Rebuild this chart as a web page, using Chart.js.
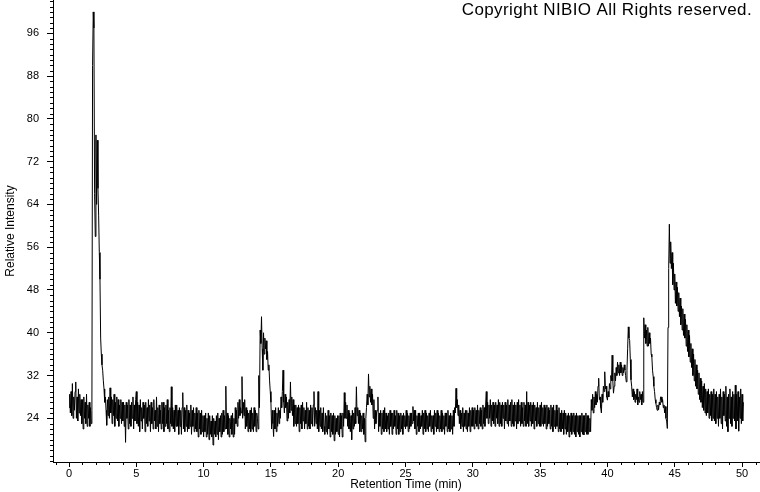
<!DOCTYPE html>
<html>
<head>
<meta charset="utf-8">
<title>Chromatogram</title>
<script src="https://cdn.jsdelivr.net/npm/chart.js@4"></script>
<style>
  html, body { margin: 0; padding: 0; background: #fff; }
  #wrap { width: 760px; height: 492px; }
</style>
</head>
<body>
<div id="wrap"><canvas id="chrom" width="760" height="492"></canvas></div>
<script>
// Chromatogram - relative intensity vs retention time
// values on a 0.05 min grid (one row = one minute)

const xTicks = [0, 5, 10, 15, 20, 25, 30, 35, 40, 45, 50];
const yTicks = [24, 32, 40, 48, 56, 64, 72, 80, 88, 96];

const STEP = 0.05;

// 0.00 - 1.70 min
const leadStart = 0.0;
const leadValues = [
  26, 28.5, 25, 29, 24.5, 30.5, 24, 28, 25.5, 29, 30.8, 24, 28, 23.5, 29.5, 25, 28.5, 24.5, 27.5, 23,
  27.5, 22, 28, 24, 27, 23, 28.5, 22.5, 26.5, 24, 27, 22.5, 26, 23, 25.5];

// big early peak, 1.75 - 2.70 min
const peak1Start = 1.75;
const peak1Values = [90, 100, 97, 66, 58, 77, 64, 76, 67, 62,
  55, 50, 39, 36, 34, 33, 31, 29.5, 27, 28];

// 2.75 - 14.00 min
const run2Start = 2.75;
const run2Values = [25.5, 22.7, 27.5, 24.5, 28,
  24, 29.7, 25, 28, 23, 27.5, 24.5, 28.5, 22.5, 27, 24, 28, 23.5, 27.5, 22.5, 26.5, 24, 27.5, 23, 27,
  23.5, 27, 22.5, 26.5, 19.5, 27, 24, 26.5, 22, 27.5, 23, 26.5, 22.5, 27, 24, 28, 22, 26.5, 23.5, 27.5,
  29, 23, 27, 22.5, 26.5, 21.5, 27.5, 23.5, 26, 22, 27, 24, 26.5, 21.5, 27, 23, 26, 22.5, 27.5, 23.5,
  26.5, 21.5, 27, 23, 26, 22, 27.5, 23.5, 25.5, 22, 28, 22.5, 26, 21.5, 26.5, 23, 25.5, 22, 27, 23,
  27, 21.5, 26, 22.5, 26.5, 23, 27.5, 22, 25.5, 21.5, 26, 23, 29.9, 22.5, 26, 22, 25.5, 21.5, 26.5, 22.5,
  26.5, 22.5, 25.5, 21, 26, 22.5, 25.5, 21, 26, 28.8, 22, 26, 21.5, 25.5, 22.5, 26.5, 21.5, 25.5, 22, 25,
  22.5, 26.5, 21, 25.5, 22.5, 26, 21.5, 25, 22, 26, 21.5, 25, 20.5, 25.5, 22, 25, 21, 25.5, 21.5, 24.5,
  20.5, 24.5, 21.5, 25, 20.5, 24, 21, 25, 20, 24.5, 21, 23.5, 20.5, 24.5, 19, 24, 21, 23.5, 20.5, 24.5,
  21, 25, 20, 24, 21.5, 24.5, 20.5, 25, 21, 25.5, 21.5, 24.5, 22, 30, 22, 25, 21, 24.5, 20.5, 24,
  22, 24.5, 21, 25, 20.5, 24, 21, 26, 23, 25.5, 22.5, 27, 24, 27.5, 24.5, 26, 25, 31.8, 24, 27,
  24.5, 27.5, 22, 26, 22.5, 25.5, 21.5, 25, 22, 25.5, 21.5, 26, 22, 25, 21.5, 26, 22.5, 25.5, 21.5, 25,
  24];

// peak cluster around 14.3 min, 14.05 - 15.00
const peak2Start = 14.05;
const peak2Values = [22, 32, 26, 40.5, 38, 43, 37, 33, 40, 36,
  39, 37, 38.5, 35, 36.5, 33, 34, 31, 29, 27];

// 15.05 - 25.00 min
const run3Start = 15.05;
const run3Values = [
  22, 25.5, 23, 20.6, 25.5, 22, 26, 21.5, 25, 22.5, 26, 23, 25.5, 24, 28, 26, 29, 33, 27,
  25, 28.5, 26, 28, 23.5, 27, 24, 27.5, 25, 30.8, 25.5, 28, 24.5, 27.5, 22.5, 26.5, 23, 26.5, 22.5, 26,
  23, 26.5, 21.5, 26, 23, 26.5, 22, 27, 23.5, 26, 22, 25.5, 23, 27, 22, 26, 22.5, 25.5, 22, 26.5,
  23, 26, 22.5, 26.5, 29, 22.5, 26, 23, 25.5, 22, 29, 21.5, 25.5, 22.5, 26, 22, 25, 21.5, 26, 22.5,
  21, 25, 21.5, 24.5, 21, 25.5, 22, 24.5, 20.5, 25, 21.5, 24.5, 21, 25, 19.8, 24.5, 21, 24, 21.5, 24.5,
  21, 24.5, 20.5, 25, 22, 24.5, 20.5, 25, 22.5, 28.8, 24, 27, 24, 26.5, 22.5, 25.5, 22, 25, 21.5, 24.5,
  20, 25.5, 22, 25, 22.5, 26, 23, 29.9, 24.5, 26, 23, 25.5, 21.5, 25, 21.5, 24.5, 22, 25, 21, 24,
  19.6, 24, 26, 28.5, 26.5, 32.3, 28, 30, 27, 29.5, 26.5, 28.5, 24, 27.5, 22, 25.5, 23, 25, 25.5, 28,
  21.5, 25, 22.5, 25.5, 21, 25, 22, 25.5, 21.5, 26, 22, 25, 21.5, 24.5, 22, 25, 21, 25.5, 22.5, 25,
  21, 25, 22, 25.5, 22.5, 24.5, 21, 25.5, 22, 25, 21, 24.5, 21.5, 25, 22, 24.5, 21, 25, 22.5, 24.5,
  22];

// 25.05 - 35.00 min
const run4Start = 25.05;
const run4Values = [
  25.5, 22.5, 25, 21.5, 24.5, 22, 25, 22.5, 25, 23, 26.2, 23.5, 25.5, 22, 25.5, 21, 24.5, 22.5, 25,
  21.5, 25, 22, 24.5, 22.5, 25.5, 21, 25, 22, 25.5, 21.5, 25, 22, 24.5, 21.5, 25, 22.5, 25.5, 21.5, 24.5,
  22, 24.5, 21, 25.5, 22.5, 25, 21.5, 25.5, 22, 25, 21.5, 24.5, 22, 25.5, 21.5, 25, 22, 24.5, 21, 25,
  22.5, 25, 21.5, 25.5, 22, 24.5, 21.5, 25, 22, 24.5, 21, 25.5, 22.5, 26, 25, 29.6, 26, 27.5, 24.5, 26.5,
  23, 25.5, 22, 25, 22.5, 26, 21.5, 25, 22.5, 25.5, 22, 25.5, 21.5, 25, 22.5, 26, 21.5, 25.5, 22.5, 26,
  22.5, 25.5, 22, 26, 23, 25.5, 22.5, 26.5, 22, 25.5, 23, 26, 22.5, 25.5, 22, 26.5, 23, 26, 22.5, 26.5,
  29, 24, 27, 23, 26.5, 24, 27.5, 22.5, 26.5, 23.5, 27, 23, 26.5, 22.5, 27, 24, 26.5, 23, 27.5, 22.5,
  27, 23, 26.5, 22.5, 27, 24, 26.5, 22, 27, 23.5, 26.5, 23, 27.5, 22.5, 26.5, 23.5, 27, 22.5, 27.5, 23,
  26.5, 22.5, 27, 23.5, 26.5, 22, 27, 23, 27.5, 23.5, 26.5, 22.5, 27, 23, 26, 22.5, 27, 23.5, 26.5, 22.5,
  29, 23, 27, 22.5, 26.5, 23.5, 27, 22.5, 26.5, 23, 27, 22, 26.5, 23.5, 26, 22.5, 27, 23, 26, 22.5,
  26.5];

// 35.05 - 44.45 min
const run5Start = 35.05;
const run5Values = [
  22.5, 27, 23, 26, 22.5, 26.5, 23, 26, 22, 26.5, 22.5, 26, 23, 25.5, 22, 26.5, 22.5, 26, 21.5,
  26.5, 22.5, 25.5, 22, 26.5, 22.5, 25.5, 21.5, 26, 22, 25, 21.5, 25.5, 22, 25, 21, 25.5, 22, 25, 21,
  24.5, 21.5, 25, 20.5, 24.5, 21.5, 25, 21, 24.5, 21.5, 25, 21, 24.5, 20.5, 25, 21.5, 24.5, 21, 24.5, 20.5,
  24.5, 21.5, 25, 21, 24.5, 20.9, 24.5, 21.5, 25, 21, 24.5, 21, 24.5, 21.5, 24, 21.5, 27.5, 25.5, 28.5, 25,
  28, 26, 29, 26.5, 28.5, 27, 30, 31.5, 27.5, 28, 26, 25, 28.5, 27, 30, 29, 32.7, 29.5, 30, 28,
  27.4, 29, 28, 30.5, 29.5, 32, 31, 35.8, 31, 28.7, 30, 32.5, 31, 33.5, 32, 34.5, 32.5, 34, 32, 34.5,
  32.5, 34, 32, 33.5, 32.5, 34, 33, 32, 30.8, 33, 37, 41.1, 39, 38.6, 35, 31.2, 30, 28, 29.5, 27.5,
  29, 27, 28.5, 27.5, 29.5, 26.5, 28, 27, 29, 27.5, 28.5, 26.5, 29, 27, 42.8, 39, 41.5, 38, 40.5, 37.5,
  41, 37.5, 40, 38, 39, 36, 35.5, 33, 31.8, 30, 29, 27.5, 26.8, 26, 25.5, 26.5, 25.6, 27, 26.5, 28,
  28, 27, 27.5, 26, 26.5, 25, 26.2, 24, 23.5, 22.1];

// late peak and tail, 44.50 - 50.10 min
const run6Start = 44.5;
const run6Values = [
  41, 52, 60.3, 53, 57, 52, 55, 49, 53, 48,
  51, 45.5, 49.5, 45, 48.5, 44, 47.5, 43, 46.5, 41.5, 45, 40.5, 44.5, 39.5, 43.5, 39, 42.5, 37.5, 41.5, 36.5,
  40.5, 35.5, 39.5, 34.5, 38, 33.5, 37, 32, 36, 31, 35, 30, 34, 29.5, 33, 28.5, 32.5, 27.5, 31.5, 27,
  31, 26, 30, 25.5, 30.5, 25, 29.5, 24.5, 29, 25, 29.5, 24, 28.5, 24.5, 29, 23.5, 28.5, 24, 29.5, 23.5,
  28.5, 23, 29, 24, 28, 22.5, 28.5, 24, 29.5, 23, 28, 22, 29, 24.5, 28.5, 23.5, 30, 22.5, 28, 21.5,
  28.5, 24, 29.5, 23, 28, 22.5, 29, 24, 28.5, 23.5, 30.2, 22, 28.5, 23.5, 29, 21.6, 28, 24, 29.5, 23,
  28.5, 23.5, 27];

const X_MIN = -1.19, X_MAX = 51.26;
const Y_MIN = 15.83, Y_MAX = 102.23;
const FONT = '"Liberation Sans", Arial, Helvetica, sans-serif';

function addRun(points, start, values){
  values.forEach((v, i) => points.push({ x: +(start + i * STEP).toFixed(2), y: v }));
}

const trace = [];
addRun(trace, leadStart, leadValues);
addRun(trace, peak1Start, peak1Values);
addRun(trace, run2Start, run2Values);
addRun(trace, peak2Start, peak2Values);
addRun(trace, run3Start, run3Values);
addRun(trace, run4Start, run4Values);
addRun(trace, run5Start, run5Values);
addRun(trace, run6Start, run6Values);

// small unlabeled ticks, one per minute / per intensity unit
const minorTicks = {
  id: 'minorTicks',
  afterDraw(chart){
    const { ctx, chartArea, scales: { x, y } } = chart;
    ctx.save();
    ctx.strokeStyle = '#000';
    ctx.lineWidth = 1;
    ctx.beginPath();
    for(let v = Math.ceil(x.min); v <= x.max; v++){
      if(xTicks.includes(v)) continue;
      const px = Math.round(x.getPixelForValue(v)) + 0.5;
      ctx.moveTo(px, chartArea.bottom);
      ctx.lineTo(px, chartArea.bottom + 3);
    }
    for(let v = Math.ceil(y.min); v <= y.max; v++){
      if(yTicks.includes(v)) continue;
      const py = Math.round(y.getPixelForValue(v)) + 0.5;
      ctx.moveTo(chartArea.left - 3, py);
      ctx.lineTo(chartArea.left, py);
    }
    ctx.stroke();
    ctx.restore();
  }
};

const copyright = {
  id: 'copyright',
  afterDraw(chart){
    const ctx = chart.ctx;
    ctx.save();
    ctx.fillStyle = '#000';
    ctx.font = '17px ' + FONT;
    if('letterSpacing' in ctx) ctx.letterSpacing = '0.4px';
    ctx.textAlign = 'right';
    ctx.textBaseline = 'alphabetic';
    ctx.fillText('Copyright NIBIO All Rights reserved.', 752, 15);
    ctx.restore();
  }
};

new Chart(document.getElementById('chrom'), {
  type: 'line',
  data: {
    datasets: [{
      data: trace,
      borderColor: '#000',
      borderWidth: 1,
      pointRadius: 0,
      tension: 0,
      fill: false
    }]
  },
  options: {
    responsive: false,
    animation: false,
    devicePixelRatio: 1,
    layout: { padding: { top: 0, right: 1, bottom: 0, left: 0 } },
    plugins: { legend: { display: false }, tooltip: { enabled: false } },
    scales: {
      x: {
        type: 'linear',
        min: X_MIN,
        max: X_MAX,
        afterBuildTicks: (s) => { s.ticks = xTicks.map(v => ({ value: v })); },
        afterFit: (s) => { s.height = 30; s.paddingLeft = 0; s.paddingRight = 0; },
        ticks: { color: '#000', font: { family: FONT, size: 11 }, padding: 0, maxRotation: 0, autoSkip: false },
        grid: { drawOnChartArea: false, tickLength: 5, color: '#000' },
        border: { color: '#000', width: 1 },
        title: { display: true, text: 'Retention Time (min)', color: '#000', font: { family: FONT, size: 12 }, padding: { top: 0, bottom: 0 } }
      },
      y: {
        type: 'linear',
        min: Y_MIN,
        max: Y_MAX,
        afterBuildTicks: (s) => { s.ticks = yTicks.map(v => ({ value: v })); },
        afterFit: (s) => { s.width = 53; s.paddingTop = 0; s.paddingBottom = 0; },
        ticks: { color: '#000', font: { family: FONT, size: 11 }, padding: 8, autoSkip: false },
        grid: { drawOnChartArea: false, tickLength: 6, color: '#000' },
        border: { color: '#000', width: 1 },
        title: { display: true, text: 'Relative Intensity', color: '#000', font: { family: FONT, size: 12 }, padding: { top: 3, bottom: 0 } }
      }
    }
  },
  plugins: [minorTicks, copyright]
});
</script>
</body>
</html>
